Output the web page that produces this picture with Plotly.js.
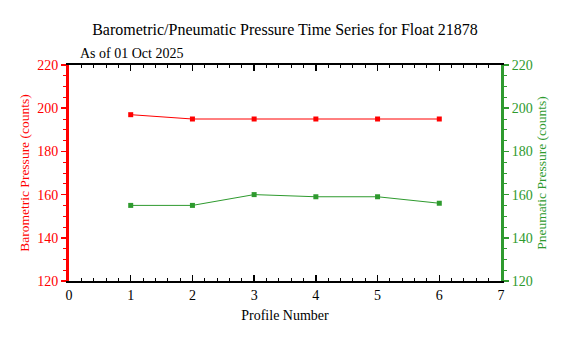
<!DOCTYPE html>
<html><head><meta charset="utf-8">
<script src="https://cdn.plot.ly/plotly-3.0.1.min.js"></script>
<style>html,body{margin:0;padding:0;background:#fff}#chart{width:570px;height:338px}</style>
</head><body><div id="chart"></div>
<script>
const profiles = [1, 2, 3, 4, 5, 6];
const barometric = [197, 195, 195, 195, 195, 195];
const pneumatic = [155, 155, 160, 159, 159, 156];
const titleText = 'Barometric/Pneumatic Pressure Time Series for Float 21878';
const subtitleText = 'As of 01 Oct 2025';
const RED = '#ff0000', GREEN = '#2e9a2e';
const FONT = 'Liberation Serif, Times New Roman, serif';

const traces = [
  {x: profiles, y: barometric, type: 'scatter', mode: 'lines+markers',
   line: {color: RED, width: 1}, marker: {color: RED, size: 5, symbol: 'square'},
   yaxis: 'y', cliponaxis: false},
  {x: profiles, y: pneumatic, type: 'scatter', mode: 'lines+markers',
   line: {color: GREEN, width: 1}, marker: {color: GREEN, size: 5, symbol: 'square'},
   yaxis: 'y2', cliponaxis: false}
];

const layout = {
  width: 570, height: 338,
  margin: {l: 69, r: 69, t: 65, b: 57},
  paper_bgcolor: '#fff', plot_bgcolor: '#fff',
  showlegend: false,
  font: {family: FONT, color: '#000', size: 14},
  title: {text: titleText, x: 0.5, xanchor: 'center', y: 0.912, yanchor: 'middle',
          font: {family: FONT, size: 16, color: '#000'}},
  annotations: [{text: subtitleText, xref: 'paper', yref: 'paper', x: 0.02, y: 1.0,
                 xanchor: 'left', yanchor: 'bottom', yshift: 2, showarrow: false,
                 font: {family: FONT, size: 14, color: '#000'}}],
  xaxis: {range: [0, 7], dtick: 1, tick0: 0, showgrid: false, zeroline: false,
          showline: true, linecolor: '#000', linewidth: 2, mirror: 'ticks',
          ticks: 'inside', ticklen: 6, tickwidth: 1.5, tickcolor: '#000',
          minor: {dtick: 0.2, ticks: 'inside', ticklen: 3, tickcolor: '#000', tickwidth: 1},
          tickfont: {family: FONT, size: 14, color: '#000'},
          title: {text: 'Profile Number', font: {family: FONT, size: 14, color: '#000'}, standoff: 8}},
  yaxis: {range: [120, 220], dtick: 20, showgrid: false, zeroline: false,
          showline: true, linecolor: RED, linewidth: 3,
          ticks: 'outside', ticklen: 5, tickwidth: 1.5, tickcolor: RED,
          minor: {dtick: 5, ticks: 'outside', ticklen: 3, tickcolor: RED, tickwidth: 1},
          tickfont: {family: FONT, size: 14, color: RED},
          title: {text: 'Barometric Pressure (counts)', font: {family: FONT, size: 13.5, color: RED}, standoff: 5}},
  yaxis2: {range: [120, 220], dtick: 20, overlaying: 'y', side: 'right',
          showgrid: false, zeroline: false,
          showline: true, linecolor: GREEN, linewidth: 3,
          ticks: 'outside', ticklen: 5, tickwidth: 1.5, tickcolor: GREEN,
          minor: {dtick: 5, ticks: 'outside', ticklen: 3, tickcolor: GREEN, tickwidth: 1},
          tickfont: {family: FONT, size: 14, color: GREEN},
          title: {text: 'Pneumatic Pressure (counts)', font: {family: FONT, size: 13.5, color: GREEN}, standoff: 5}}
};

Plotly.newPlot('chart', traces, layout, {displayModeBar: false, staticPlot: true});
</script></body></html>
